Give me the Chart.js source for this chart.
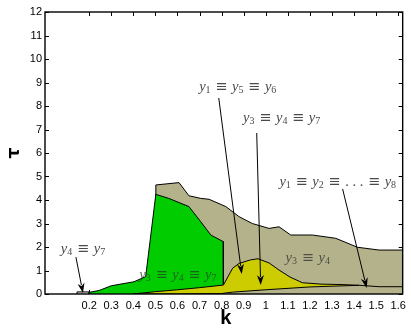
<!DOCTYPE html>
<html>
<head>
<meta charset="utf-8">
<script src="https://cdn.jsdelivr.net/npm/chart.js@4.4.0/dist/chart.umd.min.js"></script>
<style>
  html, body { margin: 0; padding: 0; background: #fff; }
  canvas { display: block; }
</style>
</head>
<body>
<canvas id="chart" width="411" height="329"></canvas>
<script>
// tick labels
const kTicks = [0.2, 0.3, 0.4, 0.5, 0.6, 0.7, 0.8, 0.9, 1.0, 1.1, 1.2, 1.3, 1.4, 1.5, 1.6];
const tauTicks = [0, 1, 2, 3, 4, 5, 6, 7, 8, 9, 10, 11, 12];

// region y1 = y2 = ... = y8 (tan, upper boundary)
const tanK   = [0.50, 0.502, 0.607, 0.652, 0.705, 0.743, 0.819, 0.879, 0.939, 1.015, 1.06, 1.113, 1.211, 1.317, 1.415, 1.513, 1.62];
const tanTau = [0,    4.64,  4.74,  4.18,  4.07,  4.03,  3.72,  3.29,  3.00,  2.79,  2.86, 2.51,  2.51,  2.37,  1.99,  1.87,  1.87];

// region y1 = y5 = y6 (green)
const greenK   = [0.20, 0.245, 0.30, 0.403, 0.456, 0.502, 0.56, 0.652, 0.705, 0.751, 0.807, 0.808];
const greenTau = [0.07, 0.15,  0.35, 0.52,  0.74,  4.24,  4.07, 3.72,  3.08,  2.51,  2.23,  0];

// region y3 = y4 = y7 (yellow), upper and lower boundary
const yelK   = [0.40, 0.50, 0.60, 0.70, 0.808, 0.85, 0.879, 0.93, 0.965, 1.015, 1.06, 1.11, 1.166, 1.25, 1.35, 1.423];
const yelTau = [0,    0.10, 0.18, 0.27, 0.38,  1.10, 1.30,  1.45, 1.50,  1.32,  1.02, 0.72, 0.48,  0.42, 0.40, 0.37];
const yelBotK   = [0.40, 0.60, 0.80, 0.85, 1.00, 1.20, 1.423];
const yelBotTau = [0,    0,    0.02, 0.08, 0.18, 0.30, 0.37];
// line continuing past the yellow tip
const tailK   = [1.423, 1.513, 1.62];
const tailTau = [0.37,  0.31,  0.31];

// region y4 = y7 (small grey box)
const boxK   = [0.145, 0.145, 0.20, 0.20];
const boxTau = [0,     0.09,  0.09, 0];

// annotations (data coordinates)
const notes = [
  { text: "y_4 ≡ y_7",             k: 0.172, tau: 1.91, color: "#4a4a4a" },
  { text: "y_1 ≡ y_5 ≡ y_6",       k: 0.873, tau: 8.81, color: "#4a4a4a" },
  { text: "y_3 ≡ y_4 ≡ y_7",       k: 1.072, tau: 7.49, color: "#4a4a4a" },
  { text: "y_1 ≡ y_2 ≡ ... ≡ y_8", k: 1.326, tau: 4.77, color: "#4a4a4a" },
  { text: "y_3 ≡ y_4 ≡ y_7",       k: 0.602, tau: 0.81, color: "rgba(40,60,40,0.75)" },
  { text: "y_3 ≡ y_4",             k: 1.190, tau: 1.53, color: "rgba(60,60,60,0.85)" }
];
const arrows = [
  [0.140, 1.57, 0.172, 0.04],
  [0.787, 8.34, 0.891, 0.85],
  [0.959, 6.85, 0.977, 0.38],
  [1.348, 4.47, 1.457, 0.26]
];

const pts = (xs, ys) => xs.map((x, i) => ({ x: x, y: ys[i] }));

function area(label, xs, ys, color, order, fill) {
  return {
    label: label,
    data: pts(xs, ys),
    backgroundColor: color,
    borderColor: "#000",
    borderWidth: 1,
    pointRadius: 0,
    tension: 0,
    fill: fill,
    order: order
  };
}

function drawMath(ctx, text, cx, cy, size, color) {
  const parts = [];
  const gap = size * 0.32;
  text.split(" ").forEach((tok, i) => {
    if (i > 0) parts.push({ t: "", font: size + "px 'Liberation Serif'", dy: 0, extra: gap });
    if (tok.startsWith("y_")) {
      parts.push({ t: "y", font: "italic " + size + "px 'Liberation Serif'", dy: 0 });
      parts.push({ t: tok.slice(2), font: Math.round(size * 0.72) + "px 'Liberation Serif'", dy: size * 0.22 });
    } else if (tok == "...") {
      parts.push({ t: ". . .", font: size + "px 'Liberation Serif'", dy: 0 });
    } else {
      parts.push({ t: tok, font: size + "px 'DejaVu Serif'", dy: 0 });
    }
  });
  let w = 0;
  parts.forEach(p => { ctx.font = p.font; p.w = ctx.measureText(p.t).width + (p.extra || 0); w += p.w; });
  let x = cx - w / 2;
  ctx.fillStyle = color;
  ctx.textBaseline = "middle";
  ctx.textAlign = "left";
  parts.forEach(p => {
    ctx.font = p.font;
    ctx.fillText(p.t, x, cy + p.dy);
    x += p.w;
  });
}

const decor = {
  id: "decor",
  beforeDatasetsDraw(chart) {
    const { ctx, chartArea: a, scales: { x, y } } = chart;
    ctx.save();
    ctx.strokeStyle = "#000";
    ctx.lineWidth = 1;
    ctx.beginPath();
    kTicks.forEach(v => {
      const px = Math.round(x.getPixelForValue(v)) + 0.5;
      ctx.moveTo(px, a.top); ctx.lineTo(px, a.top + 4);
      ctx.moveTo(px, a.bottom); ctx.lineTo(px, a.bottom - 4);
    });
    tauTicks.forEach(v => {
      const py = Math.round(y.getPixelForValue(v)) + 0.5;
      ctx.moveTo(a.left, py); ctx.lineTo(a.left + 4, py);
      ctx.moveTo(a.right, py); ctx.lineTo(a.right - 4, py);
    });
    ctx.stroke();
    ctx.restore();
  },
  afterDatasetsDraw(chart) {
    const { ctx, chartArea: a, scales: { x, y } } = chart;
    ctx.save();
    // axes box
    ctx.strokeStyle = "#000";
    ctx.lineWidth = 1.4;
    ctx.strokeRect(a.left, a.top, a.right - a.left, a.bottom - a.top);

    // arrows
    ctx.lineWidth = 1;
    arrows.forEach(([k0, t0, k1, t1]) => {
      const x0 = x.getPixelForValue(k0), y0 = y.getPixelForValue(t0);
      const x1 = x.getPixelForValue(k1), y1 = y.getPixelForValue(t1);
      const ang = Math.atan2(y1 - y0, x1 - x0);
      const len = 10, half = 3.5;
      ctx.beginPath();
      ctx.moveTo(x0, y0);
      ctx.lineTo(x1 - Math.cos(ang) * len * 0.8, y1 - Math.sin(ang) * len * 0.8);
      ctx.stroke();
      ctx.beginPath();
      ctx.moveTo(x1, y1);
      ctx.lineTo(x1 - Math.cos(ang) * len - Math.sin(ang) * half, y1 - Math.sin(ang) * len + Math.cos(ang) * half);
      ctx.lineTo(x1 - Math.cos(ang) * len * 0.7, y1 - Math.sin(ang) * len * 0.7);
      ctx.lineTo(x1 - Math.cos(ang) * len + Math.sin(ang) * half, y1 - Math.sin(ang) * len - Math.cos(ang) * half);
      ctx.closePath();
      ctx.fillStyle = "#000";
      ctx.fill();
    });

    // annotation text
    notes.forEach(n => drawMath(ctx, n.text, x.getPixelForValue(n.k), y.getPixelForValue(n.tau), 14.5, n.color));

    // axis labels
    ctx.fillStyle = "#000";
    ctx.textAlign = "center";
    ctx.textBaseline = "middle";
    ctx.font = "bold 20px 'Liberation Sans'";
    ctx.fillText("k", (a.left + a.right) / 2 + 2, 318);
    ctx.translate(15, 153);
    ctx.rotate(-Math.PI / 2);
    ctx.font = "bold 17px 'DejaVu Sans'";
    ctx.fillText("τ", 0, 0);
    ctx.restore();
  }
};

new Chart(document.getElementById("chart"), {
  type: "line",
  data: {
    datasets: [
      area("y4=y7", boxK, boxTau, "#d9d9d9", 1, "origin"),
      area("y3=y4=y7 bottom", yelBotK, yelBotTau, "rgba(0,0,0,0)", 2, false),
      area("tail", tailK, tailTau, "rgba(0,0,0,0)", 2, false),
      area("y3=y4=y7", yelK, yelTau, "#cccc00", 3, 1),
      area("y1=y5=y6", greenK, greenTau, "#00cc00", 4, "origin"),
      area("y1=...=y8", tanK, tanTau, "#b4b28a", 5, "origin")
    ]
  },
  options: {
    responsive: false,
    animation: false,
    events: [],
    layout: { padding: { top: 12, right: 8, left: 0, bottom: 0 } },
    plugins: { legend: { display: false }, tooltip: { enabled: false } },
    scales: {
      x: {
        type: "linear",
        min: 0,
        max: 1.62,
        grid: { display: false, drawTicks: false },
        border: { display: false },
        afterBuildTicks: s => { s.ticks = kTicks.map(v => ({ value: v })); },
        afterFit: s => { s.height = 35; },
        ticks: {
          autoSkip: false,
          maxRotation: 0,
          padding: 5,
          color: "#000",
          font: { family: "'Liberation Sans'", size: 11 },
          callback: v => String(Math.round(v * 10) / 10)
        }
      },
      y: {
        min: 0,
        max: 12,
        grid: { display: false, drawTicks: false },
        border: { display: false },
        afterBuildTicks: s => { s.ticks = tauTicks.map(v => ({ value: v })); },
        afterFit: s => { s.width = 45; },
        ticks: {
          padding: 3,
          color: "#000",
          font: { family: "'Liberation Sans'", size: 11 }
        }
      }
    }
  },
  plugins: [decor]
});
</script>
</body>
</html>
